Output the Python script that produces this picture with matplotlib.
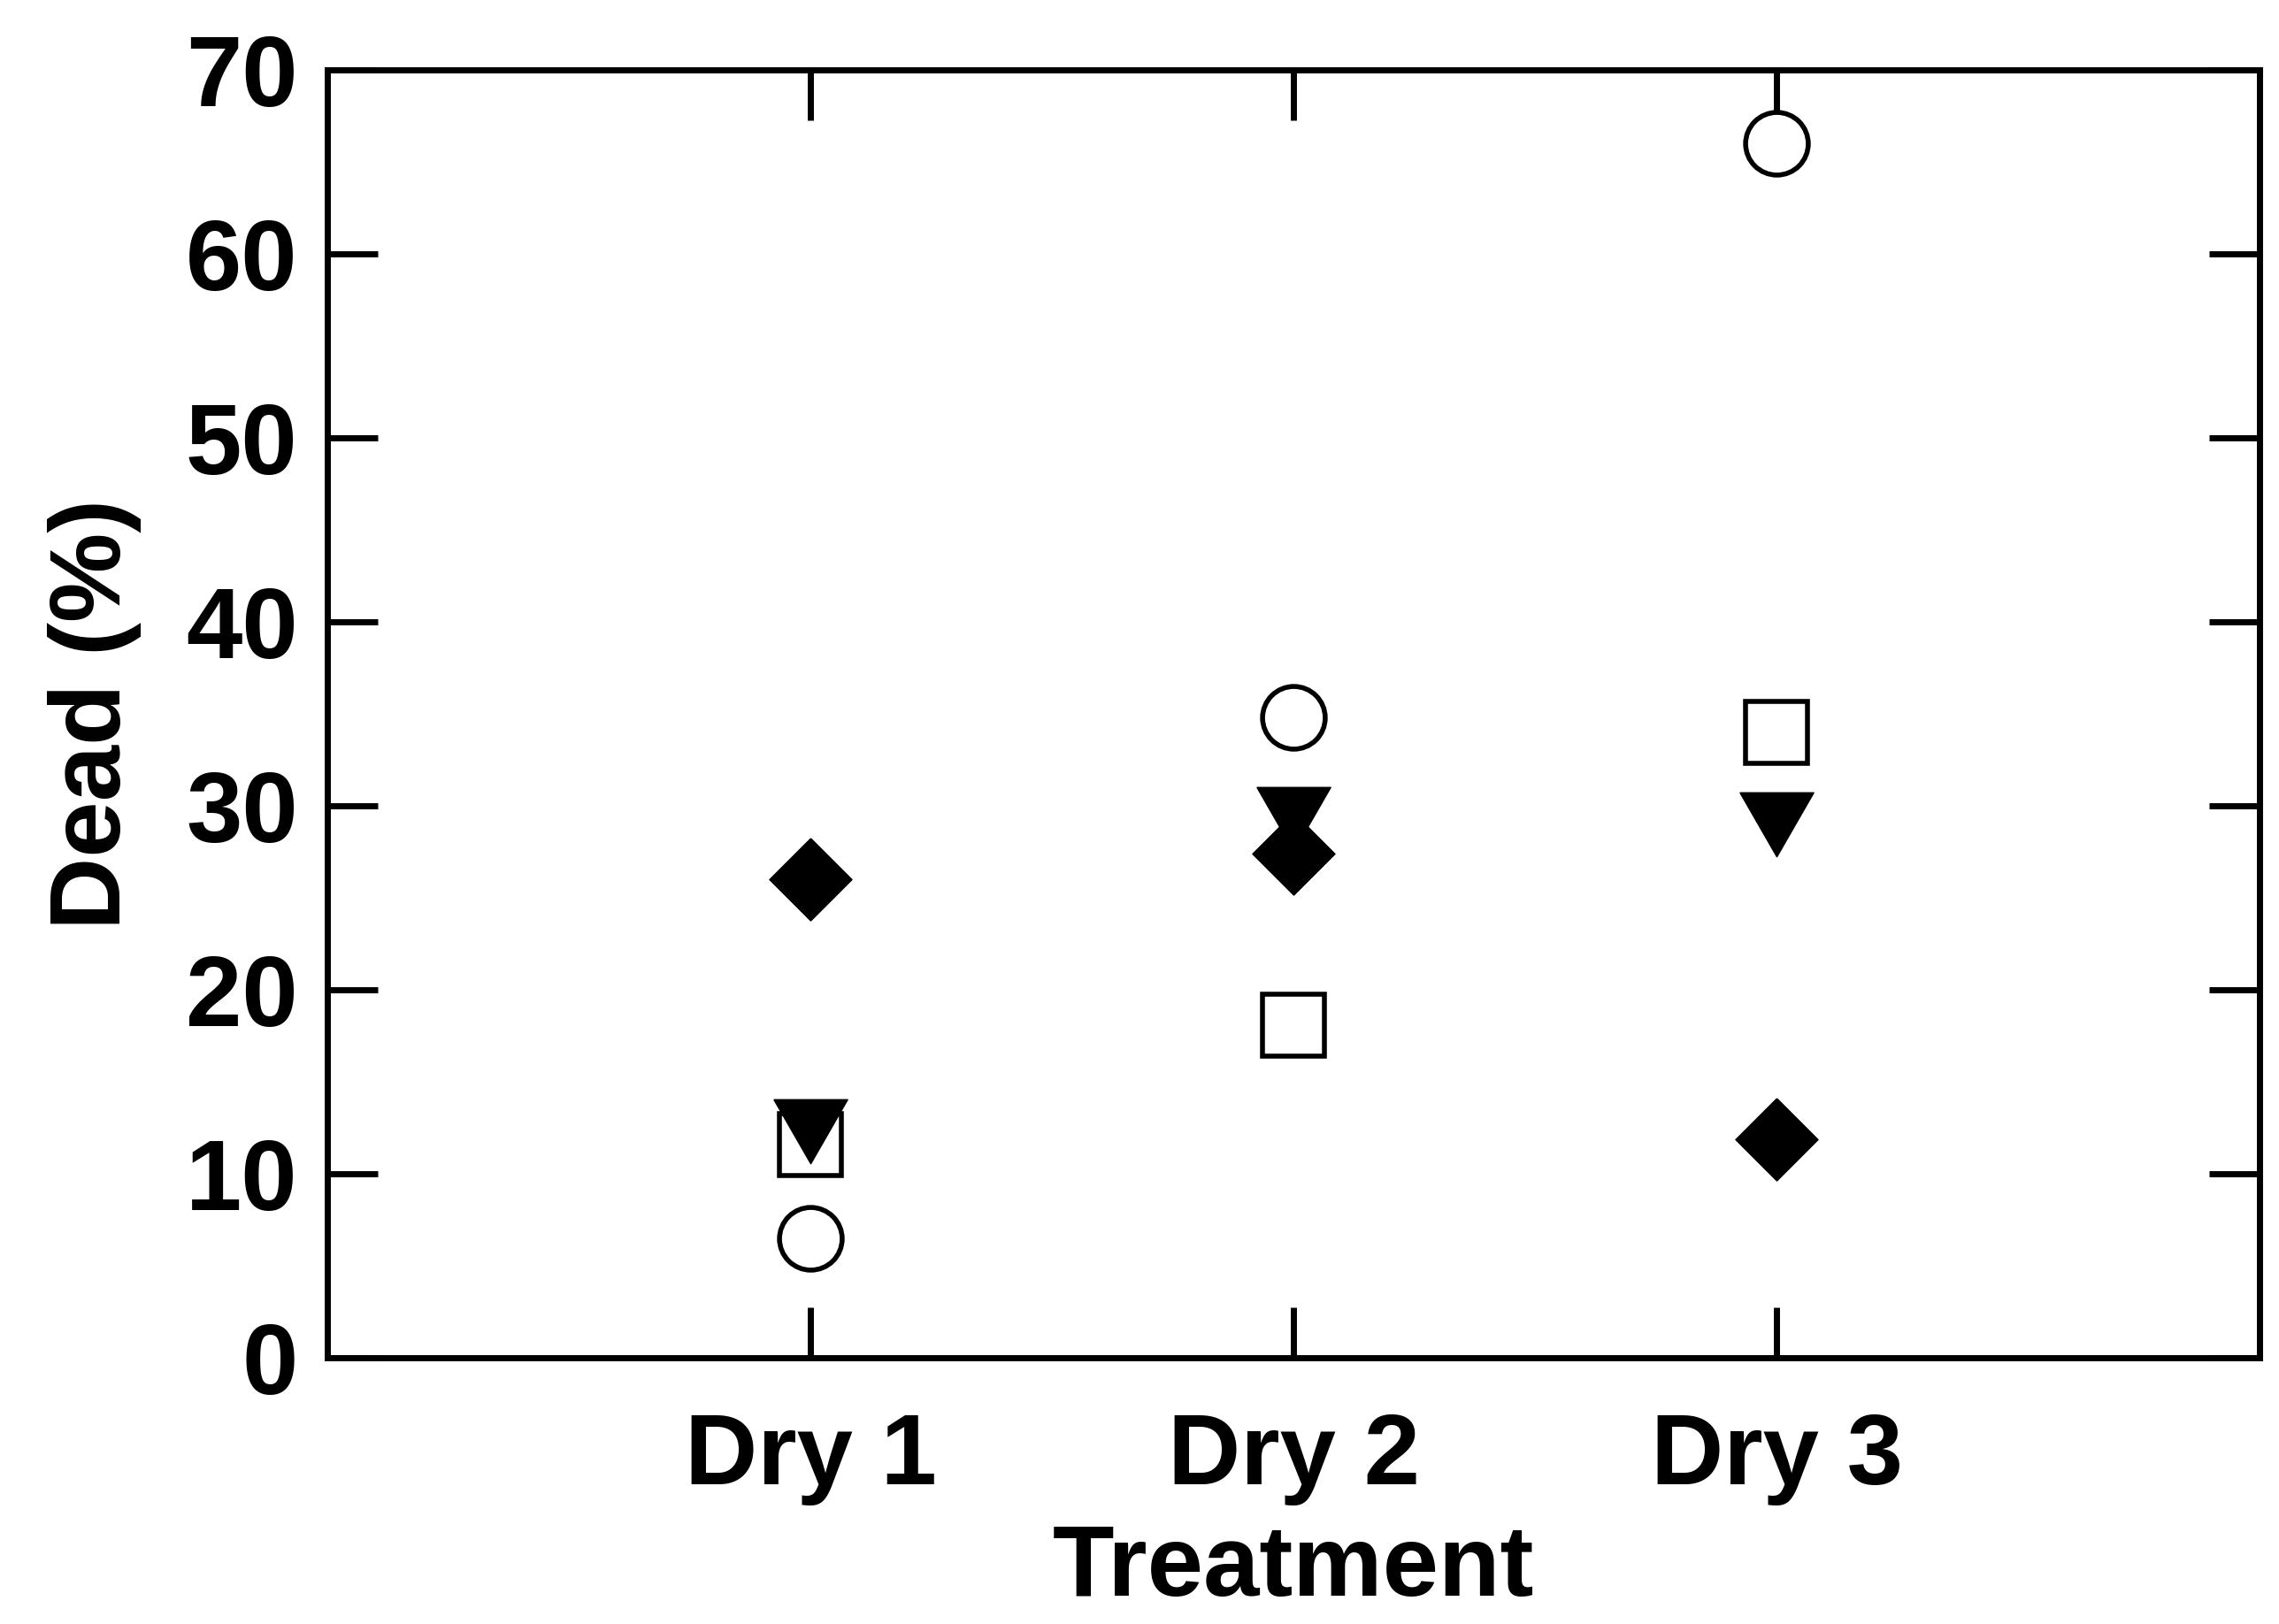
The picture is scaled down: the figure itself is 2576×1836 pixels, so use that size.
import matplotlib
matplotlib.use('Agg')
import matplotlib.pyplot as plt
import numpy as np

plt.rcParams['font.family'] = ['Liberation Sans', 'DejaVu Sans']
plt.rcParams['font.weight'] = 'bold'

treatments = ['Dry 1', 'Dry 2', 'Dry 3']
circle_vals = [6.5, 34.8, 66.0]
square_vals = [11.6, 18.1, 34.0]
triangle_vals = [12.3, 29.3, 29.0]
diamond_vals = [26.0, 27.4, 11.9]
y_ticks = [0, 10, 20, 30, 40, 50, 60, 70]

# custom marker shapes (flat triangle, square diamond)
tri_down = [(-1, 0.87), (1, 0.87), (0, -0.87), (-1, 0.87)]
diamond = [(0, 1), (1, 0), (0, -1), (-1, 0), (0, 1)]

fig = plt.figure(figsize=(25.76, 18.36), dpi=100)
ax = fig.add_axes([0.1436, 0.1639, 0.848, 0.793])

x = np.arange(1, len(treatments) + 1)
ax.plot(x, circle_vals, linestyle='none', marker='o', ms=51, mfc='white', mec='black', mew=4)
ax.plot(x, square_vals, linestyle='none', marker='s', ms=51, mfc='white', mec='black', mew=4)
ax.plot(x, triangle_vals, linestyle='none', marker=tri_down, ms=60, mfc='black', mec='black', mew=1)
ax.plot(x, diamond_vals, linestyle='none', marker=diamond, ms=67, mfc='black', mec='black', mew=1)

ax.set_xlim(0, 4)
ax.set_ylim(0, 70)
ax.set_xticks(x)
ax.set_xticklabels(treatments)
ax.set_yticks(y_ticks)

for side in ['left', 'right', 'top', 'bottom']:
    ax.spines[side].set_linewidth(5)

ax.tick_params(axis='both', which='major', direction='in', length=41, width=5,
               labelsize=82, top=True, right=True)
ax.tick_params(axis='y', pad=24)
ax.tick_params(axis='x', pad=44)

ax.set_xlabel('Treatment', fontsize=82, fontweight='bold', labelpad=14)
ax.set_ylabel('Dead (%)', fontsize=82, fontweight='bold', labelpad=36)

plt.savefig('out.png', dpi=100)
